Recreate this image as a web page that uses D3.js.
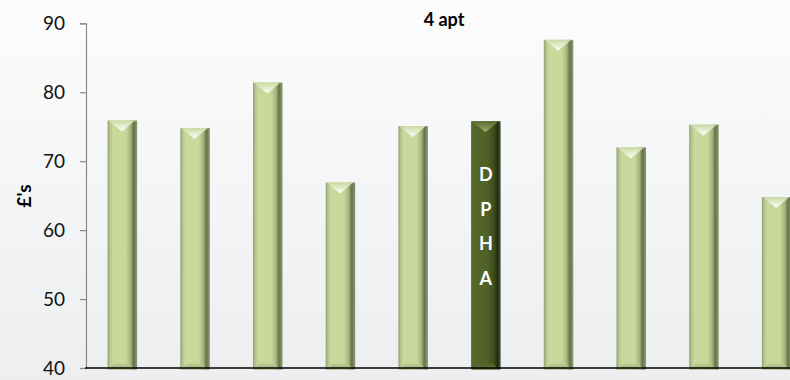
<!DOCTYPE html>
<html>
<head>
<meta charset="utf-8">
<script src="https://cdn.jsdelivr.net/npm/d3@7/dist/d3.min.js"></script>
<style>
  html, body { margin: 0; padding: 0; }
  body { width: 790px; height: 380px; overflow: hidden; }
  text { font-family: Lato, "Open Sans", sans-serif; }
</style>
</head>
<body>
<svg id="chart" width="790" height="380"></svg>
<script>
// Weekly rents for 4-apartment properties, by landlord
const landlords = ["L1", "L2", "L3", "L4", "L5", "DPHA", "L7", "L8", "L9", "L10"];
const rents = [75.9, 74.8, 81.4, 66.9, 75.1, 75.8, 87.6, 72.0, 75.3, 64.8];
const highlight = "DPHA";
const yTicks = [40, 50, 60, 70, 80, 90];
const chartTitle = "4 apt";
const yTitle = "£'s";

const svg = d3.select("#chart");
const defs = svg.append("defs");

// soft grey backdrop
const bg = defs.append("linearGradient").attr("id", "bg")
  .attr("x1", 0).attr("y1", 0).attr("x2", 0).attr("y2", 1);
bg.append("stop").attr("offset", "0%").attr("stop-color", "#fcfcfc");
bg.append("stop").attr("offset", "100%").attr("stop-color", "#eceef0");
svg.append("rect").attr("width", 790).attr("height", 380).attr("fill", "url(#bg)");

function hGrad(id, stops) {
  const g = defs.append("linearGradient").attr("id", id)
    .attr("x1", 0).attr("y1", 0).attr("x2", 1).attr("y2", 0);
  stops.forEach(([o, c]) => g.append("stop").attr("offset", o).attr("stop-color", c));
}
function vGrad(id, stops) {
  const g = defs.append("linearGradient").attr("id", id)
    .attr("x1", 0).attr("y1", 0).attr("x2", 0).attr("y2", 1);
  stops.forEach(([o, c]) => g.append("stop").attr("offset", o).attr("stop-color", c));
}

hGrad("bodyLight", [["0%", "#8f9c74"], ["7%", "#b3c28a"], ["18%", "#c9d99c"], ["62%", "#c8d89b"],
                    ["78%", "#a5b47e"], ["88%", "#67734a"], ["100%", "#8d9873"]]);
hGrad("bodyDark", [["0%", "#5a6a36"], ["10%", "#55672b"], ["55%", "#4f6126"], ["78%", "#3d4c1c"],
                   ["90%", "#232c12"], ["100%", "#465233"]]);
vGrad("capLight", [["0%", "#cbd9a2"], ["100%", "#ffffff"]]);
vGrad("capDark", [["0%", "#586b2c"], ["100%", "#9cae70"]]);
vGrad("footLight", [["0%", "#bccb8f"], ["100%", "#a3b27c"]]);
vGrad("footDark", [["0%", "#4f6127"], ["100%", "#65773c"]]);

const x = d3.scaleBand().domain(landlords).range([86, 813])
  .paddingInner(0.594).paddingOuter(0.297);
const y = d3.scaleLinear().domain([40, 90]).range([368, 23.3]);

// y axis
const yAxis = svg.append("g").attr("transform", "translate(86,0)")
  .call(d3.axisLeft(y).tickValues(yTicks).tickSize(6).tickPadding(15).tickFormat(d3.format("d")));
yAxis.select(".domain").attr("stroke", "#8a8a8a").attr("stroke-width", 1.2);
yAxis.selectAll(".tick line").attr("stroke", "#8a8a8a").attr("stroke-width", 1.2);
yAxis.selectAll(".tick text").attr("fill", "#111").attr("font-size", 19)
  .attr("font-family", "Lato, 'Open Sans', sans-serif");

// bevelled bars
const data = landlords.map((k, i) => ({ k, v: rents[i] }));
const bars = svg.append("g").selectAll("g").data(data).join("g");
const capH = 11, footH = 6;
bars.append("rect")
  .attr("x", d => x(d.k)).attr("width", x.bandwidth())
  .attr("y", d => y(d.v)).attr("height", d => y(40) + 1.5 - y(d.v))
  .attr("fill", d => d.k === highlight ? "url(#bodyDark)" : "url(#bodyLight)");
bars.append("path")
  .attr("d", d => {
    const x0 = x(d.k) + 1, x1 = x(d.k) + x.bandwidth() - 2, t = y(d.v);
    return `M${x0},${t}L${x1},${t}L${(x0 + x1) / 2},${t + capH}Z`;
  })
  .attr("fill", d => d.k === highlight ? "url(#capDark)" : "url(#capLight)");
bars.append("path")
  .attr("d", d => {
    const x0 = x(d.k) + 1, x1 = x(d.k) + x.bandwidth() - 2, b = y(40) + 1.5;
    return `M${x0},${b}L${x0 + footH},${b - footH}L${x1 - footH},${b - footH}L${x1},${b}Z`;
  })
  .attr("fill", d => d.k === highlight ? "url(#footDark)" : "url(#footLight)");

// vertical label on the highlighted bar
const hx = x(highlight) + x.bandwidth() / 2;
highlight.split("").forEach((ch, i) => {
  svg.append("text").attr("x", hx).attr("y", 181 + i * 34.5)
    .attr("text-anchor", "middle").attr("font-weight", "bold").attr("font-size", 18)
    .attr("fill", "#fff").text(ch);
});

// baseline
svg.append("line").attr("x1", 85).attr("x2", 790).attr("y1", 368).attr("y2", 368)
  .attr("stroke", "#000").attr("stroke-width", 1.6);

// titles
svg.append("text").attr("x", 444).attr("y", 26).attr("text-anchor", "middle")
  .attr("font-weight", "bold").attr("font-size", 18).text(chartTitle);
svg.append("text").attr("transform", "translate(31,196) rotate(-90)")
  .attr("text-anchor", "middle").attr("font-weight", "bold").attr("font-size", 19).text(yTitle);
</script>
</body>
</html>
